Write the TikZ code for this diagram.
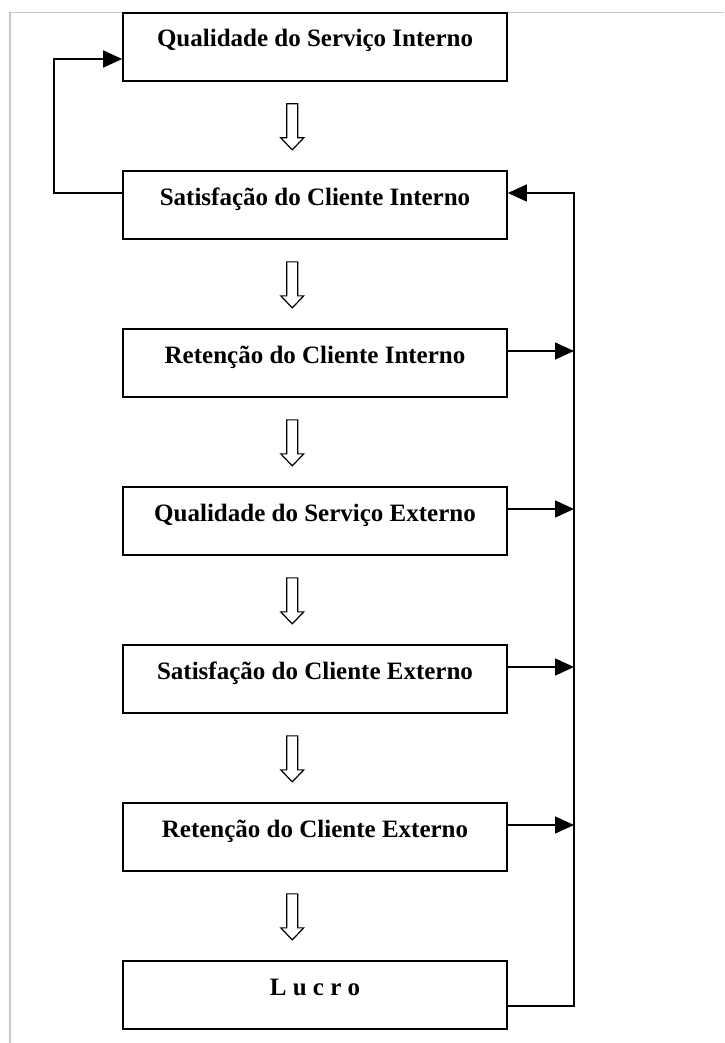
\documentclass[tikz,border=0pt]{standalone}
\usepackage{fontspec}
\setmainfont{Liberation Serif}
\usetikzlibrary{calc,arrows.meta}
\tikzset{
  stagebox/.style={draw, line width=1.7pt, rectangle, minimum width=384pt, minimum height=68pt,
    inner sep=0pt, text height=10pt, text depth=10pt,
    font=\bfseries\fontsize{25}{28}\selectfont},
  conn/.style={line width=1.6pt},
  connarrow/.style={conn, -{Triangle[length=19pt,width=17pt]}},
  hollow/.style={line width=1.2pt, fill=white, line join=miter},
  frameline/.style={draw=black!22, line width=1.2pt}
}
\newcommand\hollowdown[1]{%
  \draw[hollow] ($(#1.south)+(-28.25,22)$) -- ($(#1.south)+(-17.25,22)$)
    -- ($(#1.south)+(-17.25,56)$) -- ($(#1.south)+(-11.25,56)$)
    -- ($(#1.south)+(-22.75,68)$) -- ($(#1.south)+(-34.25,56)$)
    -- ($(#1.south)+(-28.25,56)$) -- cycle;}
\begin{document}
\begin{tikzpicture}[x=1pt,y=-1pt]
\useasboundingbox (0,0) rectangle (724,1043);
\draw[frameline] (724,12.5) -- (10,12.5) -- (10,1043);

\node[stagebox] (b1) at (315,47) {Qualidade do Serviço Interno};
\node[stagebox] (b2) at (315,205) {Satisfação do Cliente Interno};
\node[stagebox] (b3) at (315,363) {Retenção do Cliente Interno};
\node[stagebox] (b4) at (315,521) {Qualidade do Serviço Externo};
\node[stagebox] (b5) at (315,679) {Satisfação do Cliente Externo};
\node[stagebox] (b6) at (315,837) {Retenção do Cliente Externo};
\node[stagebox] (b7) at (315,995) {L u c r o};

\hollowdown{b1}
\hollowdown{b2}
\hollowdown{b3}
\hollowdown{b4}
\hollowdown{b5}
\hollowdown{b6}

% left feedback loop
\coordinate (lout) at ($(b2.west)+(0,-12)$);
\coordinate (lin) at ($(b1.west)+(0,12)$);
\coordinate (lcorner) at ($(lin)+(-68,0)$);
\draw[connarrow] (lout) -| (lcorner) -- (lin);

% right bus
\coordinate (busx) at (574,0);
\coordinate (rin) at ($(b2.east)+(0,-12)$);
\coordinate (rl) at ($(b7.east)+(0,11)$);
\draw[connarrow] (rl) -| (rin -| busx) -- (rin);
\foreach \b in {b3,b4,b5,b6}{
  \coordinate (r\b) at ($(\b.east)+(0,-12)$);
  \draw[connarrow] (r\b) -- (r\b -| busx);
}
\end{tikzpicture}
\end{document}
